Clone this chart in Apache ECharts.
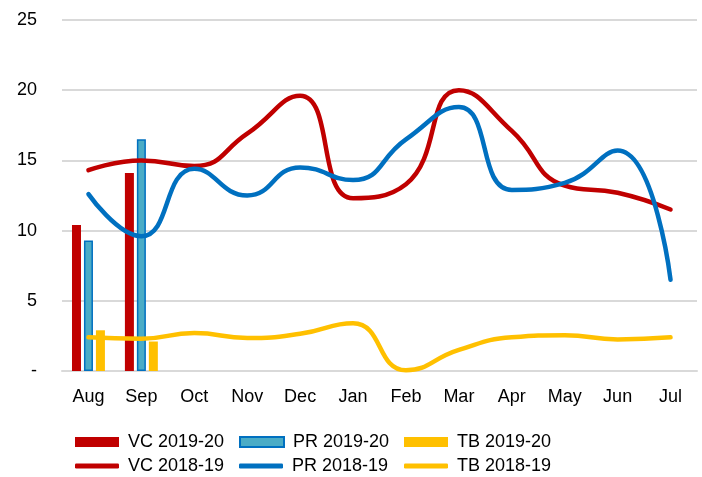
<!DOCTYPE html>
<html>
<head>
<meta charset="utf-8">
<script src="https://cdn.jsdelivr.net/npm/echarts@6/dist/echarts.min.js"></script>
<style>
  html, body { margin: 0; padding: 0; background: #fff; }
  #chart { width: 702px; height: 477px; }
</style>
</head>
<body>
<div id="chart"></div>
<script>
var months = ['Aug', 'Sep', 'Oct', 'Nov', 'Dec', 'Jan', 'Feb', 'Mar', 'Apr', 'May', 'Jun', 'Jul']
// 2019-20 (bars, only two months so far)
var vc1920 = [10.4, 14.1, null, null, null, null, null, null, null, null, null, null]
var pr1920 = [9.3, 16.5, null, null, null, null, null, null, null, null, null, null]
var tb1920 = [2.9, 2.1, null, null, null, null, null, null, null, null, null, null]
// 2018-19 (lines)
var vc1819 = [14.3, 15.0, 14.6, 16.9, 19.6, 12.3, 13.3, 20.0, 17.1, 13.2, 12.7, 11.5]
var pr1819 = [12.6, 9.6, 14.4, 12.5, 14.5, 13.6, 16.5, 18.8, 12.9, 13.4, 15.7, 6.5]
var tb1819 = [2.4, 2.3, 2.7, 2.35, 2.65, 3.4, 0.05, 1.5, 2.4, 2.55, 2.25, 2.4]
var yTicks = [0, 5, 10, 15, 20, 25]

var RED = '#C00000', BLUE = '#0070C0', TEAL = '#4BACC6', GOLD = '#FFC000'
var font = 'Arial, "Liberation Sans", sans-serif'

// one legend per entry so each sits where the original puts it
function legendItem(left, top, name, isLine){
  return {
    left: left,
    top: top,
    padding: 0,
    itemWidth: 44,
    itemHeight: isLine ? 5 : 10,
    icon: isLine ? 'roundRect' : 'rect',
    textStyle: { fontSize: 18, color: '#000', fontFamily: font, padding: [0, 0, 0, 4] },
    data: [name]
  }
}

function barSeries(name, data, color, border){
  return {
    name: name,
    type: 'bar',
    barWidth: 9,
    barGap: '33%',
    itemStyle: { color: color, borderColor: border || color, borderWidth: border ? 1.5 : 0 },
    data: data
  }
}

function lineSeries(name, data, color){
  return {
    name: name,
    type: 'line',
    smooth: 0.5,
    symbol: 'none',
    lineStyle: { width: 4.5, color: color, cap: 'round' },
    itemStyle: { color: color },
    data: data
  }
}

var myChart = echarts.init(document.getElementById('chart'))
var option = {
  animation: false,
  legend: [
    legendItem(75, 433, 'VC 2019-20'),
    legendItem(239, 433, 'PR 2019-20'),
    legendItem(404, 433, 'TB 2019-20'),
    legendItem(75, 457, 'VC 2018-19', true),
    legendItem(239, 457, 'PR 2018-19', true),
    legendItem(404, 457, 'TB 2018-19', true)
  ],
  grid: { left: 62, right: 5, top: 20, bottom: 106 },
  xAxis: {
    type: 'category',
    data: months,
    axisTick: { show: false },
    axisLine: { lineStyle: { color: '#d9d9d9', width: 2 } },
    axisLabel: { fontSize: 18, color: '#000', fontFamily: font, margin: 17 }
  },
  yAxis: {
    type: 'value',
    min: yTicks[0],
    max: yTicks[yTicks.length - 1],
    interval: 5,
    axisLine: { show: false },
    axisTick: { show: false },
    splitLine: { lineStyle: { color: '#d9d9d9', width: 2 } },
    axisLabel: {
      fontSize: 18, color: '#000', fontFamily: font, margin: 25,
      formatter: function(v){ return v === 0 ? '-' : v }
    }
  },
  series: [
    barSeries('VC 2019-20', vc1920, RED),
    barSeries('PR 2019-20', pr1920, TEAL, BLUE),
    barSeries('TB 2019-20', tb1920, GOLD),
    lineSeries('VC 2018-19', vc1819, RED),
    lineSeries('PR 2018-19', pr1819, BLUE),
    lineSeries('TB 2018-19', tb1819, GOLD)
  ]
}
myChart.setOption(option)
</script>
</body>
</html>
